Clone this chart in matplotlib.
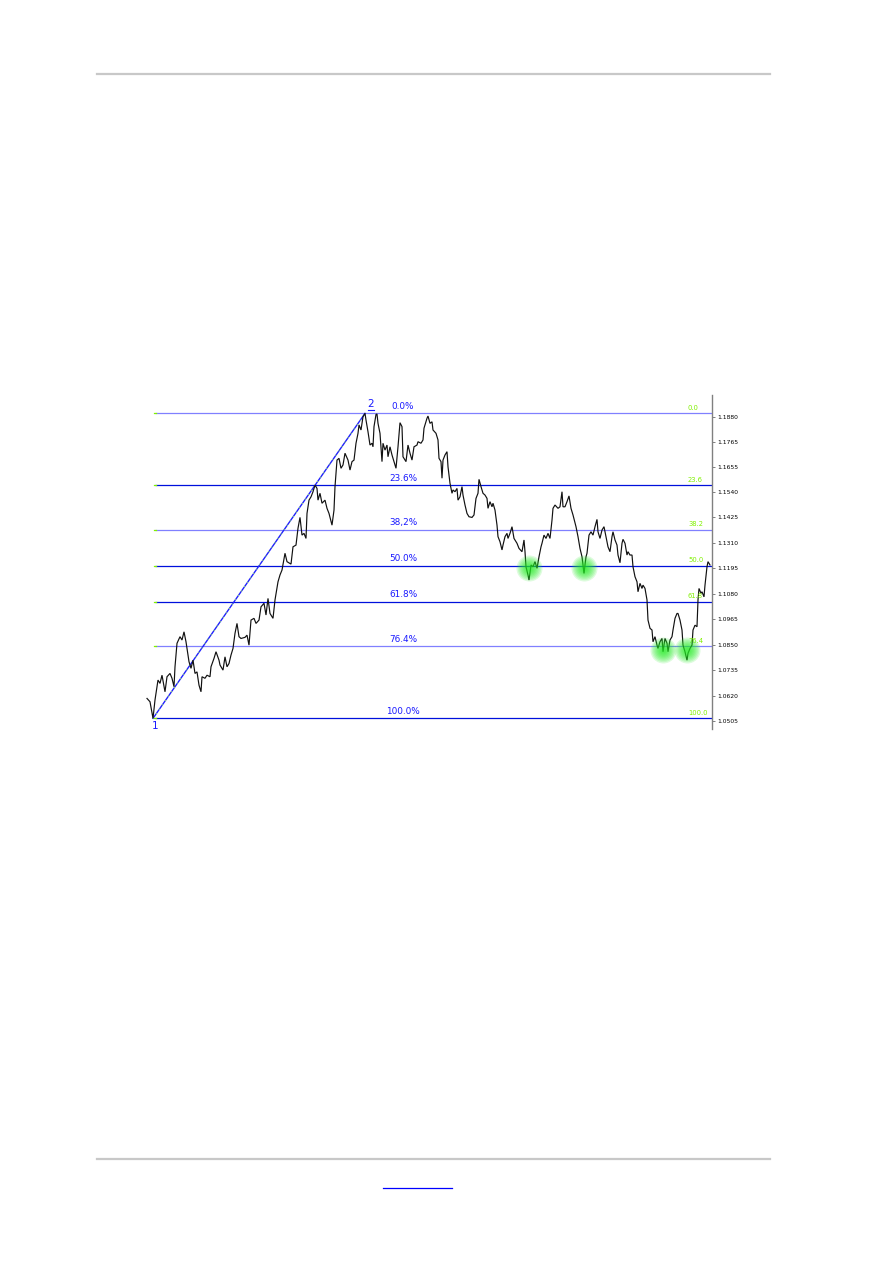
import matplotlib
matplotlib.use("Agg")
import matplotlib.pyplot as plt
from matplotlib.lines import Line2D
from matplotlib.transforms import offset_copy
import numpy as np

# ---------------- data ----------------
bars = [0, 3, 6, 8, 9, 11, 13, 15, 18, 20, 23, 25, 27, 28, 30, 33, 35, 37, 39, 42, 44, 46, 48, 50,
        52, 54, 55, 58, 60, 63, 64, 67, 69, 72, 73, 76, 78, 80, 82, 84, 86, 88, 90, 92, 94, 98,
        100, 102, 104, 107, 109, 112, 114, 117, 119, 121, 123, 126, 128, 131, 133, 135, 138, 140,
        144, 146, 149, 151, 153, 155, 157, 159, 160, 162, 164, 166, 168, 170, 171, 173, 175, 178,
        180, 182, 185, 187, 188, 190, 192, 194, 196, 198, 201, 203, 205, 207, 209, 211, 212, 214,
        216, 218, 219, 221, 223, 225, 226, 227, 229, 230, 231, 233, 235, 236, 238, 240, 241, 243,
        245, 247, 249, 251, 253, 255, 256, 259, 261, 263, 265, 267, 270, 271, 274, 276, 277, 280,
        281, 283, 285, 286, 289, 291, 292, 294, 295, 296, 298, 300, 301, 303, 305, 306, 308, 310,
        311, 313, 315, 316, 318, 320, 322, 325, 327, 329, 331, 332, 334, 336, 338, 340, 341, 343,
        345, 346, 348, 350, 351, 353, 355, 356, 358, 360, 361, 363, 365, 367, 370, 372, 375, 377,
        378, 379, 381, 382, 384, 386, 388, 390, 392, 394, 395, 397, 399, 401, 403, 405, 406, 408,
        411, 413, 415, 416, 418, 420, 422, 424, 426, 429, 431, 433, 435, 436, 437, 439, 440, 442,
        444, 446, 448, 450, 451, 453, 455, 457, 459, 461, 463, 465, 466, 468, 470, 471, 473, 475,
        476, 478, 480, 481, 483, 485, 486, 488, 490, 491, 493, 495, 496, 498, 500, 501, 503, 505,
        506, 508, 510, 511, 513, 515, 516, 518, 520, 521, 523, 525, 526, 528, 530, 531, 533, 535,
        536, 538, 540, 541, 543, 545, 546, 548, 550, 551, 552, 554, 555, 557, 558, 560, 561, 563]

close = [1.0607, 1.0592, 1.0517, 1.0600, 1.0630, 1.0690, 1.0675, 1.0712, 1.0637, 1.0705, 1.0720,
         1.0698, 1.0660, 1.0750, 1.0856, 1.0886, 1.0871, 1.0908, 1.0863, 1.0773, 1.0743, 1.0780,
         1.0720, 1.0727, 1.0667, 1.0637, 1.0705, 1.0698, 1.0712, 1.0705, 1.0750, 1.0788, 1.0818,
         1.0780, 1.0758, 1.0735, 1.0795, 1.0750, 1.0765, 1.0803, 1.0833, 1.0901, 1.0946, 1.0886,
         1.0878, 1.0883, 1.0893, 1.0848, 1.0961, 1.0969, 1.0946, 1.0961, 1.1021, 1.1037, 1.0984,
         1.1059, 1.0991, 1.0969, 1.1052, 1.1134, 1.1165, 1.1187, 1.1263, 1.1225,
         1.1214, 1.1292, 1.1300, 1.1376, 1.1425, 1.1345, 1.1353, 1.1330, 1.1443, 1.1503, 1.1518,
         1.1541, 1.1571, 1.1556, 1.1503, 1.1534, 1.1489, 1.1503, 1.1466, 1.1443, 1.1390, 1.1458,
         1.1564, 1.1684, 1.1692, 1.1647, 1.1662, 1.1715, 1.1684, 1.1639, 1.1677, 1.1684, 1.1760,
         1.1805, 1.1843, 1.1820, 1.1880, 1.1895, 1.1865, 1.1812, 1.1752, 1.1760, 1.1744, 1.1835,
         1.1890, 1.1892, 1.1850, 1.1805, 1.1677, 1.1760, 1.1729, 1.1752, 1.1699, 1.1744, 1.1707,
         1.1677, 1.1647, 1.1744, 1.1853, 1.1835, 1.1699, 1.1677, 1.1752, 1.1715, 1.1684, 1.1744,
         1.1752, 1.1767, 1.1760, 1.1775, 1.1828, 1.1873, 1.1883, 1.1850, 1.1857, 1.1820, 1.1805,
         1.1775, 1.1692, 1.1677, 1.1602, 1.1684, 1.1707, 1.1722, 1.1654, 1.1579, 1.1534, 1.1549,
         1.1541, 1.1556, 1.1503, 1.1518, 1.1564, 1.1526, 1.1481, 1.1443, 1.1428, 1.1425, 1.1436,
         1.1511, 1.1534, 1.1597, 1.1564, 1.1534, 1.1526, 1.1511, 1.1466, 1.1496, 1.1473, 1.1489,
         1.1458, 1.1390, 1.1338, 1.1315, 1.1278, 1.1300, 1.1338, 1.1353, 1.1330, 1.1353, 1.1383,
         1.1330, 1.1308, 1.1285, 1.1270, 1.1323, 1.1270, 1.1202, 1.1165, 1.1142, 1.1210, 1.1202,
         1.1225, 1.1195, 1.1247, 1.1292, 1.1308, 1.1345, 1.1330, 1.1353, 1.1330, 1.1413, 1.1466,
         1.1481, 1.1466, 1.1473, 1.1541, 1.1473, 1.1473, 1.1496, 1.1522, 1.1466, 1.1436, 1.1383,
         1.1338, 1.1285, 1.1247, 1.1210, 1.1172, 1.1247, 1.1263, 1.1345, 1.1360, 1.1345, 1.1383,
         1.1416, 1.1360, 1.1330, 1.1368, 1.1383, 1.1338, 1.1292, 1.1270, 1.1338, 1.1360, 1.1323,
         1.1300, 1.1255, 1.1220, 1.1308, 1.1326, 1.1308, 1.1255, 1.1270, 1.1255, 1.1255, 1.1202,
         1.1157, 1.1134, 1.1089, 1.1127, 1.1104, 1.1119, 1.1104, 1.1052, 1.0961, 1.0924, 1.0916,
         1.0863, 1.0886, 1.0848, 1.0833, 1.0863, 1.0878, 1.0818, 1.0878, 1.0856, 1.0818, 1.0871,
         1.0886, 1.0916, 1.0969, 1.0991, 1.0991, 1.0961, 1.0916, 1.0848, 1.0818, 1.0780, 1.0811,
         1.0833, 1.0848, 1.0916, 1.0938, 1.0931, 1.1052, 1.1104, 1.1082, 1.1089, 1.1066, 1.1119,
         1.1202, 1.1225, 1.1210]

fib_ratios = [0.0, 0.236, 0.382, 0.5, 0.618, 0.764, 1.0]
fib_left_labels = ["0.0%", "23.6%", "38,2%", "50.0%", "61.8%", "76.4%", "100.0%"]
fib_right_labels = ["0.0", "23.6", "38.2", "50.0", "61.8", "76.4", "100.0"]
fib_dark = [False, True, False, True, True, False, True]

price_ticks = [1.0505, 1.0620, 1.0735, 1.0850, 1.0965, 1.1080, 1.1195,
               1.1310, 1.1425, 1.1540, 1.1655, 1.1765, 1.1880]

glow_bars = [382, 437, 516, 540]
glow_prices = [1.1198, 1.1198, 1.0828, 1.0828]

# ---------------- figure ----------------
W, H = 893, 1263
fig = plt.figure(figsize=(W / 100, H / 100), dpi=100)
fig.patch.set_facecolor("white")

# page decorations
fig.add_artist(Line2D([97 / W, 770 / W], [1 - 73.5 / H, 1 - 73.5 / H],
                      color="#c8c8c8", lw=1.6, transform=fig.transFigure))
fig.add_artist(Line2D([97 / W, 770 / W], [1 - 1159 / H, 1 - 1159 / H],
                      color="#c8c8c8", lw=1.6, transform=fig.transFigure))
fig.add_artist(Line2D([383 / W, 452 / W], [1 - 1188 / H, 1 - 1188 / H],
                      color="#0000ff", lw=0.9, transform=fig.transFigure))

ax_l, ax_r, ax_t, ax_b = 140, 712, 395, 729
ax = fig.add_axes([ax_l / W, 1 - ax_b / H, (ax_r - ax_l) / W, (ax_b - ax_t) / H])
ax.set_facecolor("white")

x_left, x_right = -7, 565
y_top, y_bot = 1.19781, 1.04689
ax.set_xlim(x_left, x_right)
ax.set_ylim(y_bot, y_top)

bars_a = np.array(bars)
close_a = np.array(close)
i_lo = int(np.argmin(close_a))
i_hi = int(np.argmax(close_a))
lo_x, lo_y = bars_a[i_lo], close_a[i_lo]
hi_x, hi_y = bars_a[i_hi], close_a[i_hi]
rng = hi_y - lo_y

dark_c = "#0010dc"
light_c = "#8080ff"
green_c = "#80f000"

fib_start = lo_x + 2
for r, lt, rt, dk in zip(fib_ratios, fib_left_labels, fib_right_labels, fib_dark):
    lvl = hi_y - r * rng
    ax.plot([fib_start, x_right], [lvl, lvl], color=dark_c if dk else light_c,
            lw=0.9, zorder=2, solid_capstyle="butt")
    ax.plot([fib_start - 1, fib_start + 1], [lvl, lvl], color=green_c, lw=0.9, zorder=2.1)
    ax.annotate(lt, (256, lvl), xytext=(0, 2.5), textcoords="offset pixels",
                ha="center", va="bottom", fontsize=6.4, color="#1a1aff", zorder=5)
    ax.annotate(rt, (541, lvl), xytext=(0, 2.5), textcoords="offset pixels",
                ha="left", va="bottom", fontsize=4.9, color=green_c, zorder=5)

# trend line 1 -> 2
ax.plot([lo_x, hi_x], [lo_y, hi_y], color="#2020ff", lw=1.0, zorder=3)
ax.plot([lo_x, hi_x], [lo_y, hi_y], color="#a0ff40", lw=0.8, zorder=3.1,
        dashes=(0.8, 4.0))

# price
ax.plot(bars_a, close_a, color="#111111", lw=0.85, zorder=4, solid_joinstyle="miter")

# glow highlights
for gx, gy in zip(glow_bars, glow_prices):
    for rad in np.linspace(13, 2.5, 9):
        s = (2 * rad * 0.72) ** 2
        ax.scatter([gx], [gy], s=s, color="#22ee22", alpha=0.15, linewidths=0, zorder=6)

# swing labels
ax.annotate("1", (lo_x, lo_y), xytext=(2.5, -2.5), textcoords="offset pixels",
            ha="center", va="top", fontsize=7.5, color="#1a1aff", zorder=7)
ax.annotate("2", (hi_x, hi_y), xytext=(5.5, 4.5), textcoords="offset pixels",
            ha="center", va="bottom", fontsize=7.5, color="#1a1aff", zorder=7)
tr = offset_copy(ax.transData, fig=fig, x=0, y=3.2, units="dots")
ax.plot([hi_x + 2.5, hi_x + 8.5], [hi_y, hi_y], color="#1a1aff", lw=0.8, transform=tr, zorder=7)

# axes style
for s in ["top", "left", "bottom"]:
    ax.spines[s].set_visible(False)
ax.spines["right"].set_color("#808080")
ax.spines["right"].set_linewidth(1.0)
ax.yaxis.tick_right()
ax.set_yticks(price_ticks)
ax.set_yticklabels([f"{v:.4f}" for v in price_ticks])
ax.tick_params(axis="y", direction="out", length=2, width=0.7, color="#808080",
               labelsize=4.3, pad=1.5, labelcolor="black")
ax.set_xticks([])

fig.savefig("out.png", dpi=100, facecolor="white")
